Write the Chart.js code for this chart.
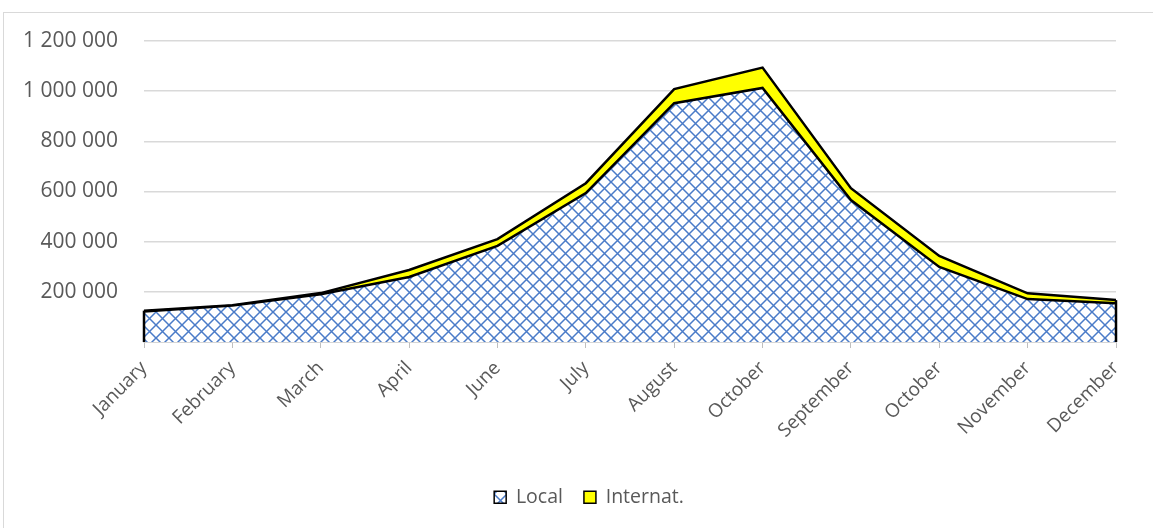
<!DOCTYPE html>
<html>
<head>
<meta charset="utf-8">
<script src="https://cdn.jsdelivr.net/npm/chart.js@4.4.1/dist/chart.umd.min.js"></script>
<style>
html,body{margin:0;padding:0;background:#fff;overflow:hidden;}
#wrap{position:relative;width:1153px;height:528px;}
#frame{position:absolute;left:3px;top:12px;width:1300px;height:700px;border:1px solid #d9d9d9;box-sizing:border-box;}
#c{position:absolute;left:0;top:0;}
</style>
</head>
<body>
<div id="wrap"><div id="frame"></div><canvas id="c" width="1153" height="528"></canvas></div>
<script>
// ---- data ----
const categories = ["January","February","March","April","June","July","August","October","September","October","November","December"];
const localValues = [122000, 145000, 190000, 259000, 383000, 594000, 952000, 1013000, 566000, 299000, 171000, 154000];
const internatValues = [3000, 2000, 5000, 28000, 27000, 39000, 56000, 81000, 47000, 44000, 23000, 13000];
const yTickValues = [0, 200000, 400000, 600000, 800000, 1000000, 1200000];
const seriesNames = ["Local", "Internat."];

// ---- pattern ----
function makePattern(){
  const P = 13;
  const pc = document.createElement('canvas');
  pc.width = P; pc.height = P;
  const g = pc.getContext('2d');
  g.fillStyle = '#ffffff';
  g.fillRect(0,0,P,P);
  g.strokeStyle = '#4a7bc8';
  g.lineWidth = 1.5;
  g.beginPath();
  g.moveTo(-1,-1); g.lineTo(P+1,P+1);
  g.moveTo(P+1,-1); g.lineTo(-1,P+1);
  g.stroke();
  return document.getElementById('c').getContext('2d').createPattern(pc,'repeat');
}
const hatch = makePattern();

const FONT = "'Open Sans', 'Liberation Sans', sans-serif";
const TXT = '#595959';

const edgePlugin = {
  id: 'edges',
  afterLayout(chart){
    if (chart.legend) { chart.legend.left += 31; chart.legend.right += 31; }
  },
  afterDatasetsDraw(chart){
    const ctx = chart.ctx;
    const x = chart.scales.x, y = chart.scales.y;
    const n = categories.length;
    ctx.save();
    ctx.strokeStyle = '#000';
    ctx.lineWidth = 2.5;
    [0, n-1].forEach(i => {
      const px = x.getPixelForValue(i);
      ctx.beginPath();
      ctx.moveTo(px, y.getPixelForValue(0));
      ctx.lineTo(px, y.getPixelForValue(localValues[i] + internatValues[i]));
      ctx.stroke();
    });
    ctx.restore();
  }
};

const PAD_BOTTOM = 11;
new Chart(document.getElementById('c'), {
  type: 'line',
  data: {
    labels: categories,
    datasets: [
      { label: seriesNames[0], data: localValues, fill: 'origin', backgroundColor: hatch,
        borderColor: '#000', borderWidth: 2.5, pointRadius: 0, tension: 0 },
      { label: seriesNames[1], data: internatValues, fill: '-1', backgroundColor: '#ffff00',
        borderColor: '#000', borderWidth: 2.5, pointRadius: 0, tension: 0 }
    ]
  },
  options: {
    responsive: false,
    animation: false,
    layout: { padding: { left: 0, top: 41, right: 37, bottom: PAD_BOTTOM } },
    plugins: {
      legend: {
        position: 'bottom',
        labels: {
          font: { family: FONT, size: 19.5 },
          color: TXT,
          boxWidth: 12, boxHeight: 12,
          padding: 21,
          generateLabels(chart){
            return chart.data.datasets.map((d,i)=>({
              text: d.label, fillStyle: d.backgroundColor, strokeStyle: '#000',
              lineWidth: 1.5, datasetIndex: i, fontColor: TXT, hidden: false
            }));
          }
        }
      },
      tooltip: { enabled: false }
    },
    scales: {
      x: {
        offset: false,
        grid: { drawOnChartArea: false, drawTicks: true, tickLength: 6, color: '#bfbfbf' },
        border: { display: true, color: '#bfbfbf', width: 1.5 },
        ticks: { font: { family: FONT, size: 19 }, color: TXT, minRotation: 45, maxRotation: 45, padding: 9, autoSkip: false },
        afterFit(s){ const lh = s.chart.legend ? s.chart.legend.height : 0; s.height = 528 - 342 - lh - PAD_BOTTOM; }
      },
      y: {
        stacked: true,
        min: 0, max: 1200000,
        afterBuildTicks(s){ s.ticks = yTickValues.map(v=>({value:v})); },
        grid: { color: '#d9d9d9', lineWidth: 1.5, drawTicks: false },
        border: { display: false },
        ticks: {
          font: { family: FONT, size: 21 }, color: TXT, padding: 26,
          callback(v){ return v === 0 ? '' : String(v).replace(/\B(?=(\d{3})+(?!\d))/g, ' '); }
        },
        afterFit(s){ s.width = 144; }
      }
    }
  },
  plugins: [edgePlugin]
});
</script>
</body>
</html>
